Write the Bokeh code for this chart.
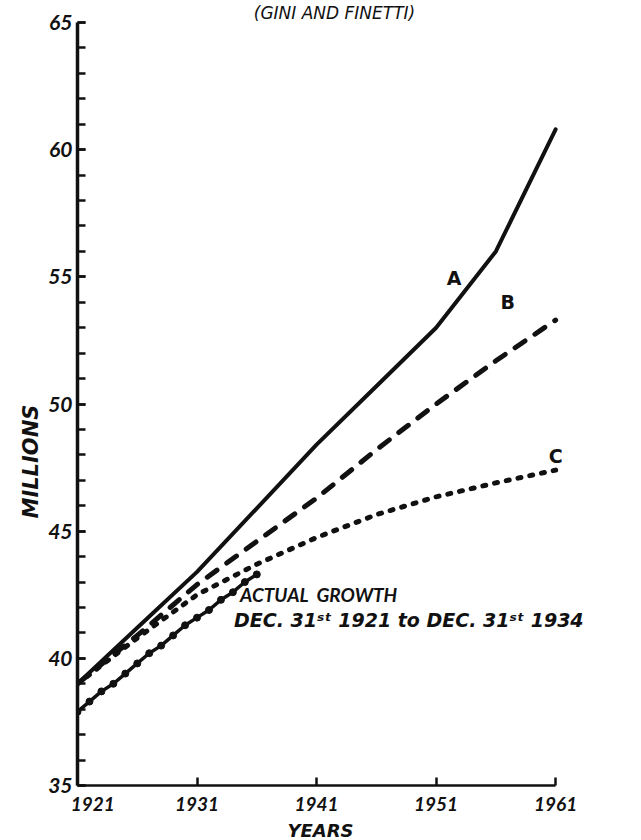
from bokeh.plotting import figure
from bokeh.models import FixedTicker, Label, Range1d, Title
from bokeh.embed import file_html
from bokeh.resources import INLINE

# ---- data ----
years = [1921, 1926, 1931, 1936, 1941, 1946, 1951, 1956, 1961]
est_a = [39.0, 41.2, 43.4, 45.9, 48.4, 50.7, 53.0, 56.0, 60.8]
est_b = [39.0, 40.9, 42.9, 44.6, 46.3, 48.2, 50.0, 51.7, 53.3]
est_c = [39.0, 40.8, 42.5, 43.7, 44.75, 45.65, 46.35, 46.9, 47.4]

actual_years = [1921, 1922, 1923, 1924, 1925, 1926, 1927, 1928, 1929, 1930,
                1931, 1932, 1933, 1934, 1935, 1936]
actual = [37.9, 38.3, 38.7, 39.0, 39.4, 39.8, 40.2, 40.5, 40.9, 41.3,
          41.6, 41.9, 42.3, 42.6, 43.0, 43.3]

x_ticks = [1921, 1931, 1941, 1951, 1961]
y_ticks = [35, 40, 45, 50, 55, 60, 65]
y_minor = list(range(35, 66))

title_text = "(GINI AND FINETTI)"
x_title = "YEARS"
y_title = "MILLIONS"
curve_names = ["A", "B", "C"]
note_1 = "ACTUAL\u00a0\u00a0GROWTH"
note_2 = "DEC. 31\u02e2\u1d57 1921 to DEC. 31\u02e2\u1d57 1934"

FONT = "Lato"
WIDE = "DejaVu Sans"
INK = "#111111"

W, H = 641, 840
p = figure(width=W, height=H, output_backend="svg", toolbar_location=None,
           x_range=Range1d(1921, 1964), y_range=Range1d(35, 65),
           min_border_left=77, min_border_right=50,
           min_border_top=22, min_border_bottom=53)
p.outline_line_color = None
p.grid.visible = False
p.background_fill_color = "white"
p.border_fill_color = "white"

# title (top)
p.title.text = title_text
p.title.align = "center"
p.title.standoff = 0
p.title.text_font = WIDE
p.title.text_font_style = "italic"
p.title.text_font_size = "17px"
p.title.text_color = INK

# x axis
xa = p.xaxis[0]
xa.bounds = (1921, 1961)
xa.ticker = FixedTicker(ticks=x_ticks)
xa.major_label_overrides = {1921: "\u2007\u2007\u20071921"}
xa.axis_line_width = 2.5
xa.axis_line_color = INK
xa.major_tick_in = 8
xa.major_tick_out = 0
xa.major_tick_line_width = 2.5
xa.major_tick_line_color = INK
xa.minor_tick_line_color = None
xa.major_label_standoff = 6
xa.major_label_text_font = FONT
xa.major_label_text_font_style = "bold italic"
xa.major_label_text_font_size = "19px"
xa.major_label_text_color = INK

# x title (below the axis, under 1941 like the reference)
p.add_layout(Title(text=x_title, align="left", offset=210, standoff=0,
                   text_font=WIDE, text_font_style="bold italic",
                   text_font_size="18px", text_color=INK), "below")

# y axis
ya = p.yaxis[0]
ya.ticker = FixedTicker(ticks=y_ticks, minor_ticks=y_minor)
ya.axis_line_width = 3.5
ya.axis_line_color = INK
ya.major_tick_in = 8
ya.major_tick_out = 0
ya.minor_tick_in = 8
ya.minor_tick_out = 0
ya.major_tick_line_width = 2.5
ya.minor_tick_line_width = 2.5
ya.major_tick_line_color = INK
ya.minor_tick_line_color = INK
ya.major_label_standoff = 5
ya.major_label_text_font = FONT
ya.major_label_text_font_style = "bold italic"
ya.major_label_text_font_size = "21px"
ya.major_label_text_color = INK

# y title (left, lower than centre like the reference)
p.add_layout(Title(text=y_title, align="left", offset=267, standoff=6,
                   text_font=WIDE, text_font_style="bold italic",
                   text_font_size="21px", text_color=INK), "left")

# curves
p.line(years, est_a, line_width=4, line_color=INK, line_cap="round", line_join="round")
p.line(years, est_b, line_width=5, line_color=INK, line_dash="12 12",
       line_cap="round", line_join="round")
p.line(years, est_c, line_width=5, line_color=INK, line_dash="3 9",
       line_cap="round", line_join="round")
p.line(actual_years, actual, line_width=3.5, line_color=INK, line_cap="round")
p.scatter(actual_years, actual, size=7, fill_color=INK, line_color=INK)

# curve labels
for name, (lx, ly) in zip(curve_names, [(1952.5, 54.95), (1957.0, 54.0), (1961.0, 47.95)]):
    p.add_layout(Label(x=lx, y=ly, text=name, text_align="center", text_baseline="middle",
                       text_font=WIDE, text_font_style="bold", text_font_size="19px",
                       text_color=INK))

# notes
p.add_layout(Label(x=1934.6, y=42.5, text=note_1, text_align="left",
                   text_baseline="alphabetic", text_font=FONT,
                   text_font_style="bold italic", text_font_size="19px", text_color=INK))
p.add_layout(Label(x=1934.1, y=41.5, text=note_2, text_align="left",
                   text_baseline="alphabetic", text_font=WIDE,
                   text_font_style="bold italic", text_font_size="19px", text_color=INK))

open("out.html", "w").write(file_html(p, INLINE))
